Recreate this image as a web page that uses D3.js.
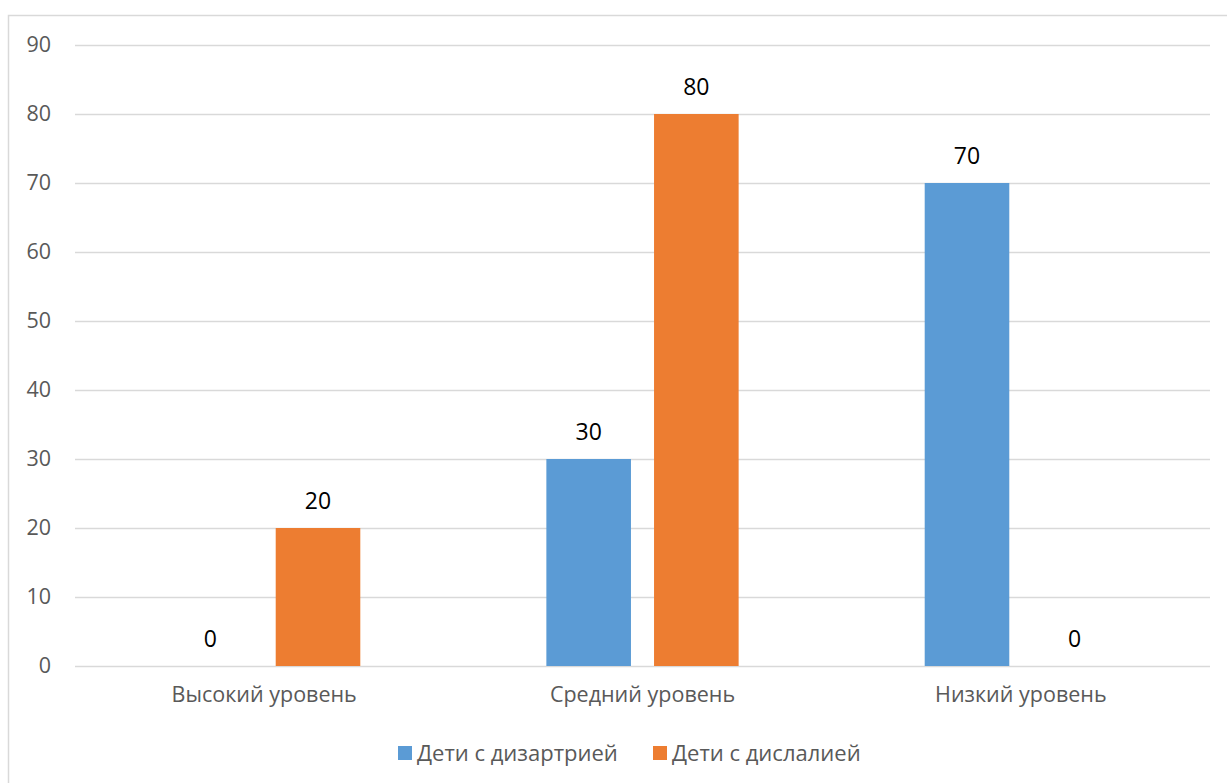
<!DOCTYPE html>
<html>
<head>
<meta charset="utf-8">
<script src="https://cdn.jsdelivr.net/npm/d3@7"></script>
<style>
  body { margin: 0; background: #fff; }
  text { font-family: "Open Sans", "Noto Sans", sans-serif; }
</style>
</head>
<body>
<div id="chart"></div>
<script>
const categories = ['Высокий уровень', 'Средний уровень', 'Низкий уровень'];
const seriesNames = ['Дети с дизартрией', 'Дети с дислалией'];
const dysarthria = [0, 30, 70];
const dyslalia = [20, 80, 0];
const yTicks = [0, 10, 20, 30, 40, 50, 60, 70, 80, 90];
const colors = ['#5B9BD5', '#ED7D31'];

const width = 1227;
const height = 783;
const margin = { top: 45, right: 17, bottom: 117, left: 75 };
const innerWidth = width - margin.left - margin.right;
const innerHeight = height - margin.top - margin.bottom;

const svg = d3.select('#chart').append('svg')
  .attr('width', width)
  .attr('height', height);

// chart frame, only top and left edges are in view
svg.append('path')
  .attr('d', `M8.5,${height} V15.5 H${width}`)
  .attr('fill', 'none')
  .attr('stroke', '#d9d9d9')
  .attr('stroke-width', 1.5);

const g = svg.append('g')
  .attr('transform', `translate(${margin.left}, ${margin.top})`);

const xScale = d3.scaleBand()
  .domain(categories)
  .range([0, innerWidth]);

const yScale = d3.scaleLinear()
  .domain([0, 90])
  .range([innerHeight, 0]);

const barW = xScale.bandwidth() * 0.2236;
const gap = xScale.bandwidth() * 0.061;
const xSub = d3.scaleOrdinal()
  .domain([0, 1])
  .range([xScale.bandwidth() / 2 - gap / 2 - barW, xScale.bandwidth() / 2 + gap / 2]);

// gridlines + y labels
const yAxis = d3.axisLeft(yScale)
  .tickValues(yTicks)
  .tickSize(-innerWidth)
  .tickPadding(24);
g.append('g')
  .attr('class', 'y-axis')
  .call(yAxis)
  .call(a => a.select('.domain').remove())
  .call(a => a.selectAll('line').attr('stroke', '#d9d9d9').attr('stroke-width', 1.5))
  .call(a => a.selectAll('text')
    .attr('fill', '#595959')
    .attr('font-size', 21.5));

// x labels
const xAxis = d3.axisBottom(xScale).tickSize(0).tickPadding(21);
g.append('g')
  .attr('transform', `translate(0, ${innerHeight})`)
  .call(xAxis)
  .call(a => a.select('.domain').remove())
  .call(a => a.selectAll('text')
    .attr('fill', '#595959')
    .attr('font-size', 21.5));

const rows = [];
categories.forEach((c, i) => {
  rows.push({ cat: c, s: 0, v: dysarthria[i] });
  rows.push({ cat: c, s: 1, v: dyslalia[i] });
});

g.selectAll('.bar').data(rows).enter().append('rect')
  .attr('class', 'bar')
  .attr('x', d => xScale(d.cat) + xSub(d.s))
  .attr('y', d => yScale(d.v))
  .attr('width', barW)
  .attr('height', d => innerHeight - yScale(d.v))
  .attr('fill', d => colors[d.s]);

g.selectAll('.lbl').data(rows).enter().append('text')
  .attr('class', 'lbl')
  .attr('x', d => xScale(d.cat) + xSub(d.s) + barW / 2)
  .attr('y', d => yScale(d.v) - 19)
  .attr('text-anchor', 'middle')
  .attr('font-size', 23)
  .attr('fill', '#000')
  .text(d => d.v);

// legend
const legend = svg.append('g').attr('transform', 'translate(398, 746)');
const legendX = [0, 255];
seriesNames.forEach((name, i) => {
  const lg = legend.append('g').attr('transform', `translate(${legendX[i]}, 0)`);
  lg.append('rect')
    .attr('width', 14).attr('height', 14)
    .attr('fill', colors[i]);
  lg.append('text')
    .attr('x', 19).attr('y', 15)
    .attr('font-size', 22)
    .attr('fill', '#595959')
    .text(name);
});
</script>
</body>
</html>
